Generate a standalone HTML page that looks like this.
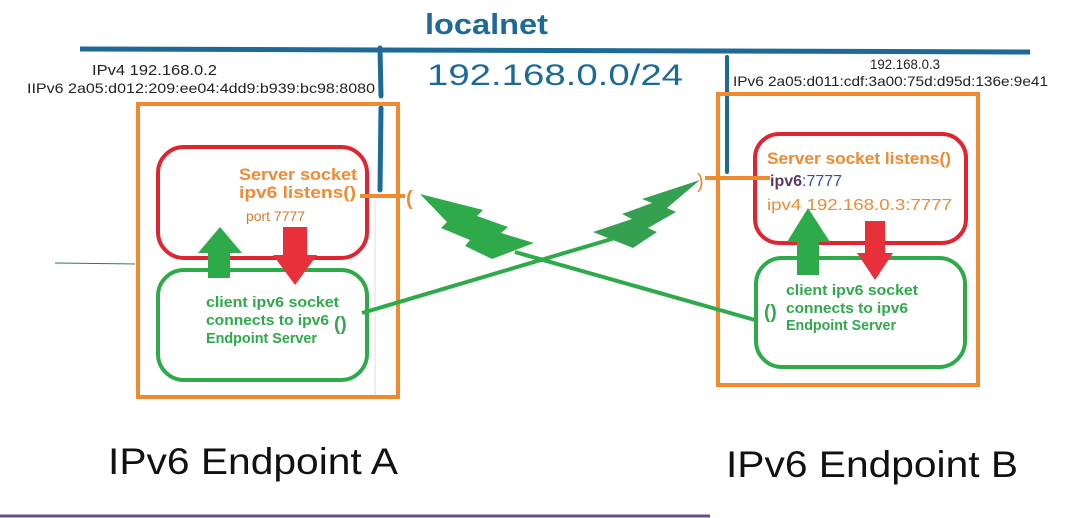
<!DOCTYPE html>
<html><head><meta charset="utf-8"><style>
body{margin:0;background:#fff;}
svg{display:block;font-family:"Liberation Sans",sans-serif;}
</style></head><body>
<svg width="1075" height="518" viewBox="0 0 1075 518" xmlns="http://www.w3.org/2000/svg">
<rect width="1075" height="518" fill="#fff"/>
<path d="M80 49 L1030 52" stroke="#1e6a96" stroke-width="5"/>
<path d="M380 48 L381 96 M381 108 L380 190" stroke="#1e6a96" stroke-width="5" stroke-linecap="round"/>
<path d="M727 57 L727 98 M727 100 L727 172" stroke="#1e6a96" stroke-width="4" stroke-linecap="round"/>
<text x="425" y="34" font-size="29" font-weight="bold" fill="#1e6a96" textLength="123" lengthAdjust="spacingAndGlyphs">localnet</text>
<text x="427" y="85" font-size="30" fill="#1e6a96" textLength="256" lengthAdjust="spacingAndGlyphs">192.168.0.0/24</text>
<text x="92" y="75" font-size="15" fill="#222" textLength="125" lengthAdjust="spacingAndGlyphs">IPv4 192.168.0.2</text>
<text x="27" y="93" font-size="14" fill="#222" textLength="348" lengthAdjust="spacingAndGlyphs">IIPv6   2a05:d012:209:ee04:4dd9:b939:bc98:8080</text>
<text x="870" y="69" font-size="14" fill="#222" textLength="70" lengthAdjust="spacingAndGlyphs">192.168.0.3</text>
<text x="733" y="86" font-size="14" fill="#222" textLength="315" lengthAdjust="spacingAndGlyphs">IPv6  2a05:d011:cdf:3a00:75d:d95d:136e:9e41</text>
<path d="M55 263 L135 264" stroke="#2a7a5a" stroke-width="1"/>
<path d="M375 200 L375 395" stroke="#ddd" stroke-width="1"/>
<path d="M0 516 L710 516" stroke="#6a4c8c" stroke-width="3"/>
<rect x="138" y="104" width="260" height="293" fill="none" stroke="#f08a30" stroke-width="4"/>
<rect x="718" y="94" width="260" height="291" fill="none" stroke="#f08a30" stroke-width="4"/>
<rect x="158" y="147" width="209" height="111" rx="26" fill="none" stroke="#e02530" stroke-width="4"/>
<rect x="755" y="134" width="211" height="109" rx="24" fill="none" stroke="#e02530" stroke-width="4"/>
<rect x="158" y="270" width="209" height="110" rx="26" fill="none" stroke="#2eaa4a" stroke-width="4"/>
<rect x="756" y="258" width="209" height="109" rx="26" fill="none" stroke="#2eaa4a" stroke-width="4"/>
<polygon points="220,227 242,253 230,253 230,278 208,278 208,253 198,253" fill="#2eaa4a"/>
<polygon points="283,227 307,227 307,255 317,255 295,285 273,255 283,255" fill="#e8303a"/>
<polygon points="808,208 830,242 819,242 819,275 797,275 797,242 787,242" fill="#2eaa4a"/>
<polygon points="865,221 885,221 885,253 893,253 875,280 857,253 865,253" fill="#e8303a"/>
<path d="M360 196 L405 196" stroke="#f08a30" stroke-width="4"/>
<text x="406" y="205" font-size="20" font-weight="bold" fill="#f08a30">(</text>
<path d="M705 178 L770 178" stroke="#f08a30" stroke-width="4"/>
<text x="697" y="188" font-size="20" fill="#f08a30">)</text>
<polygon points="420,194 483,210 477,216 508,227 501,233 534,243 492,259 465,246 470,240 441,228 447,222" fill="#2eaa4a"/>
<polygon points="700,180 642,199 652,203 622,214 632,219 593,232 633,248 657,232 648,228 676,212 667,208" fill="#35a050"/>
<path d="M362 313 L615 238" stroke="#2eaa4a" stroke-width="4"/>
<path d="M515 252 L755 320" stroke="#2eaa4a" stroke-width="4"/>
<g font-weight="bold" fill="#f08a30" font-size="17">
<text x="239" y="180" textLength="118" lengthAdjust="spacingAndGlyphs">Server socket</text>
<text x="239" y="198" textLength="117" lengthAdjust="spacingAndGlyphs">ipv6 listens()</text>
</g>
<text x="246" y="221" font-size="14" fill="#d87a30" textLength="59" lengthAdjust="spacingAndGlyphs">port 7777</text>
<g font-weight="bold" fill="#2eaa4a" font-size="15">
<text x="206" y="307" textLength="133" lengthAdjust="spacingAndGlyphs">client ipv6 socket</text>
<text x="206" y="325" textLength="123" lengthAdjust="spacingAndGlyphs">connects to ipv6</text>
<text x="206" y="343" textLength="111" lengthAdjust="spacingAndGlyphs">Endpoint Server</text>
<text x="334" y="330" font-size="19">()</text>
</g>
<text x="767" y="164" font-size="17" font-weight="bold" fill="#f08a30" textLength="184" lengthAdjust="spacingAndGlyphs">Server socket listens()</text>
<text x="770" y="186" font-size="16" font-weight="bold" fill="#5a3a6a">ipv6<tspan font-weight="normal" fill="#3050b0">:7777</tspan></text>
<text x="767" y="210" font-size="16" fill="#f08a30" textLength="185" lengthAdjust="spacingAndGlyphs">ipv4   192.168.0.3:7777</text>
<g font-weight="bold" fill="#2eaa4a" font-size="15">
<text x="786" y="295" textLength="132" lengthAdjust="spacingAndGlyphs">client ipv6 socket</text>
<text x="786" y="313" textLength="122" lengthAdjust="spacingAndGlyphs">connects to ipv6</text>
<text x="786" y="330" textLength="110" lengthAdjust="spacingAndGlyphs">Endpoint Server</text>
<text x="764" y="318" font-size="19">()</text>
</g>
<text x="108" y="474" font-size="37" fill="#111" textLength="290" lengthAdjust="spacingAndGlyphs">IPv6 Endpoint A</text>
<text x="726" y="477" font-size="37" fill="#111" textLength="292" lengthAdjust="spacingAndGlyphs">IPv6 Endpoint B</text>
</svg>
</body></html>
